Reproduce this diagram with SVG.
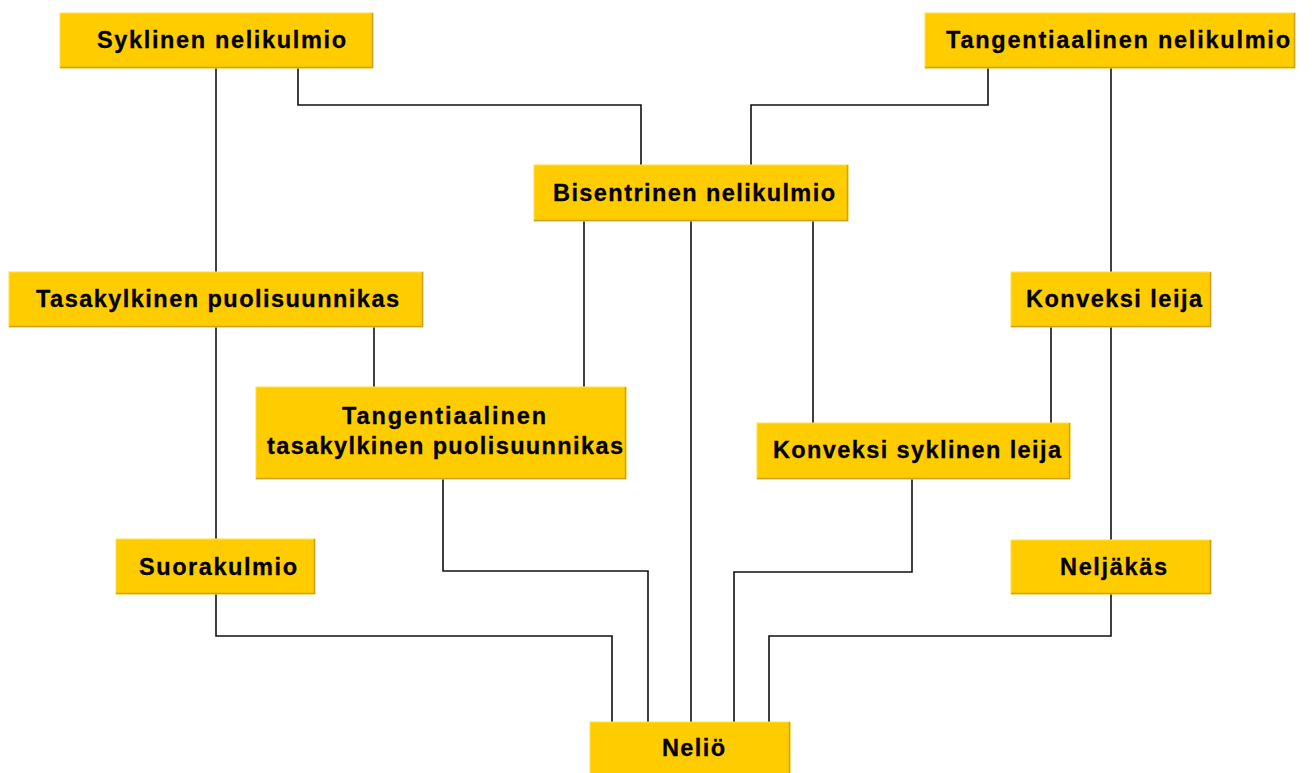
<svg xmlns="http://www.w3.org/2000/svg" width="1312" height="773" viewBox="0 0 1312 773">
<style>
.box{fill:#FFCC00;stroke:#FFE040;stroke-width:1}
.edge{fill:none;stroke:#C9A227;stroke-width:1.5}
.lbl{font-family:"Liberation Sans",Arial,sans-serif;font-weight:bold;font-size:23.5px;fill:#000;stroke:#000;stroke-width:0.3}
.conn{fill:none;stroke:#111;stroke-width:1.6}
</style>
<rect width="1312" height="773" fill="#fff"/>
<g id="connectors">
<polyline class="conn" points="216,68 216,539"/>
<polyline class="conn" points="216,594 216,636 612,636 612,722"/>
<polyline class="conn" points="298,68 298,105 641,105 641,165"/>
<polyline class="conn" points="988,68 988,105 751,105 751,165"/>
<polyline class="conn" points="1111,68 1111,540"/>
<polyline class="conn" points="1111,594 1111,636 769,636 769,722"/>
<polyline class="conn" points="584,221 584,387"/>
<polyline class="conn" points="691,221 691,722"/>
<polyline class="conn" points="813,221 813,423"/>
<polyline class="conn" points="374,327 374,387"/>
<polyline class="conn" points="1051,327 1051,423"/>
<polyline class="conn" points="443,479 443,571 648,571 648,722"/>
<polyline class="conn" points="912,479 912,572 734,572 734,722"/>
</g>
<g id="n-syklinen">
<rect class="box" x="60" y="13" width="313" height="55"/>
<polyline class="edge" points="60,67.5 372.5,67.5 372.5,13"/>
<text class="lbl" x="97" y="48" textLength="249" lengthAdjust="spacing">Syklinen nelikulmio</text>
</g>
<g id="n-tangentiaalinen">
<rect class="box" x="925" y="13" width="370" height="55"/>
<polyline class="edge" points="925,67.5 1294.5,67.5 1294.5,13"/>
<text class="lbl" x="946" y="48" textLength="344" lengthAdjust="spacing">Tangentiaalinen nelikulmio</text>
</g>
<g id="n-bisentrinen">
<rect class="box" x="534" y="165" width="314" height="56"/>
<polyline class="edge" points="534,220.5 847.5,220.5 847.5,165"/>
<text class="lbl" x="553" y="201" textLength="282" lengthAdjust="spacing">Bisentrinen nelikulmio</text>
</g>
<g id="n-tasakylkinen">
<rect class="box" x="9" y="272" width="414" height="55"/>
<polyline class="edge" points="9,326.5 422.5,326.5 422.5,272"/>
<text class="lbl" x="36" y="307" textLength="363" lengthAdjust="spacing">Tasakylkinen puolisuunnikas</text>
</g>
<g id="n-tangtasa">
<rect class="box" x="256" y="387" width="370" height="92"/>
<polyline class="edge" points="256,478.5 625.5,478.5 625.5,387"/>
<text class="lbl" x="342" y="424" textLength="204" lengthAdjust="spacing">Tangentiaalinen</text>
<text class="lbl" x="267" y="454" textLength="356" lengthAdjust="spacing">tasakylkinen puolisuunnikas</text>
</g>
<g id="n-konveksisyklinen">
<rect class="box" x="757" y="423" width="313" height="56"/>
<polyline class="edge" points="757,478.5 1069.5,478.5 1069.5,423"/>
<text class="lbl" x="773" y="458" textLength="288" lengthAdjust="spacing">Konveksi syklinen leija</text>
</g>
<g id="n-suorakulmio">
<rect class="box" x="116" y="539" width="199" height="55"/>
<polyline class="edge" points="116,593.5 314.5,593.5 314.5,539"/>
<text class="lbl" x="139" y="575" textLength="158" lengthAdjust="spacing">Suorakulmio</text>
</g>
<g id="n-konveksileija">
<rect class="box" x="1011" y="272" width="200" height="55"/>
<polyline class="edge" points="1011,326.5 1210.5,326.5 1210.5,272"/>
<text class="lbl" x="1026" y="307" textLength="176" lengthAdjust="spacing">Konveksi leija</text>
</g>
<g id="n-neljakas">
<rect class="box" x="1011" y="540" width="200" height="54"/>
<polyline class="edge" points="1011,593.5 1210.5,593.5 1210.5,540"/>
<text class="lbl" x="1060" y="575" textLength="107" lengthAdjust="spacing">Neljäkäs</text>
</g>
<g id="n-nelio">
<rect class="box" x="590" y="722" width="200" height="56"/>
<polyline class="edge" points="789.5,722 789.5,778"/>
<text class="lbl" x="662" y="756" textLength="63" lengthAdjust="spacing">Neliö</text>
</g>
</svg>
